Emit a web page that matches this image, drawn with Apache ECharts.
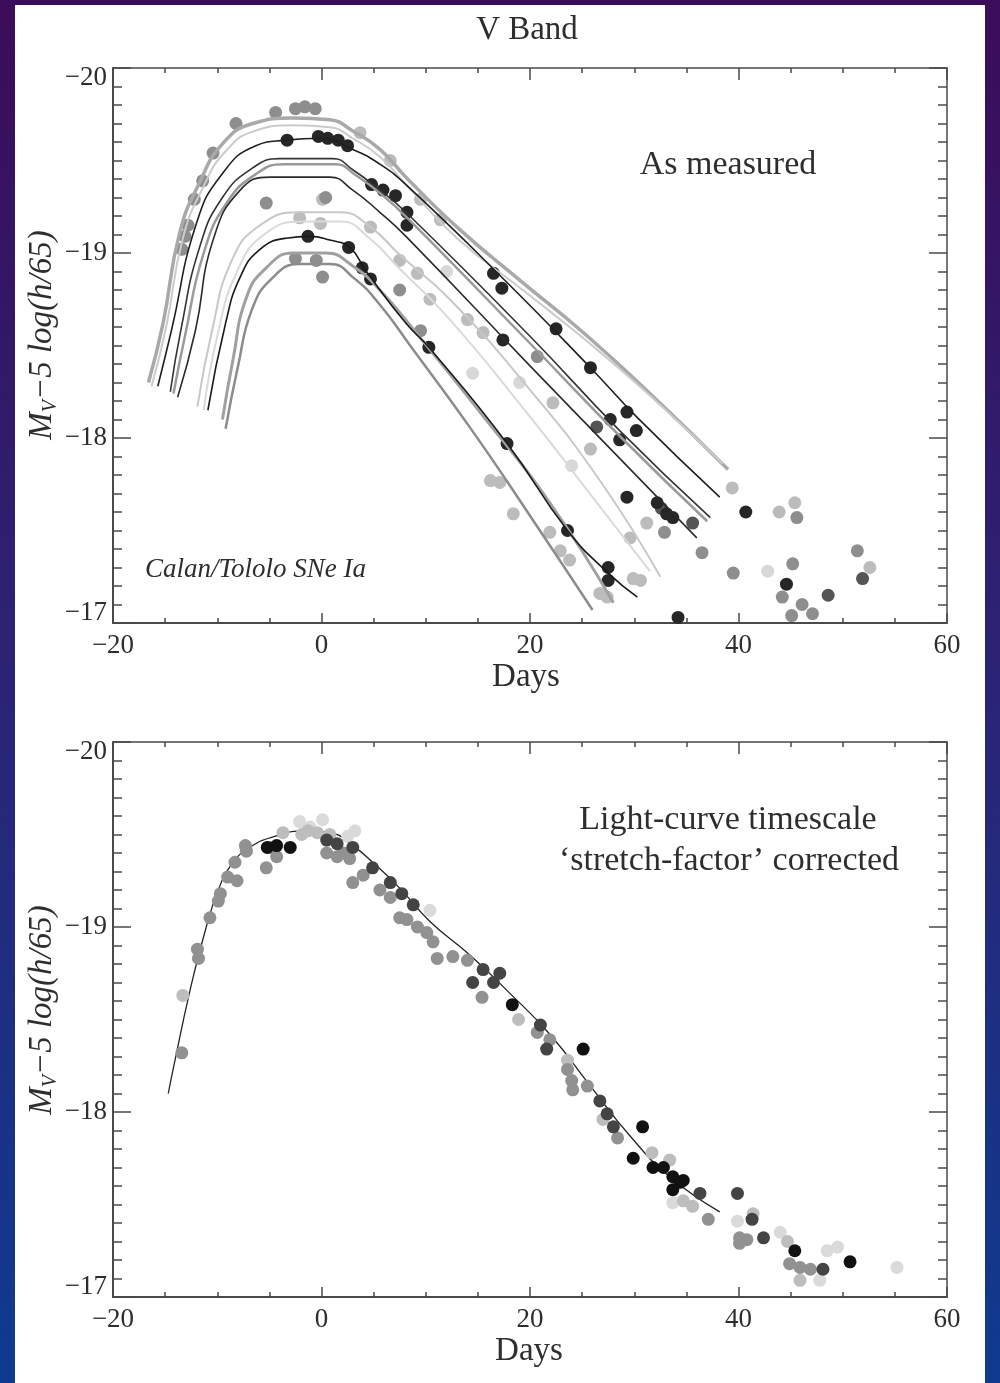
<!DOCTYPE html>
<html>
<head>
<meta charset="utf-8">
<title>V Band - Calan/Tololo SNe Ia</title>
<script src="https://cdn.jsdelivr.net/npm/echarts@6/dist/echarts.min.js"></script>
<style>
  html, body { margin: 0; padding: 0; }
  body {
    width: 1000px; height: 1383px; overflow: hidden;
    background: linear-gradient(180deg, #3b0c5a 0%, #2b2476 50%, #0e3b8f 100%);
  }
  #panel { position: absolute; left: 15px; top: 5px; width: 970px; height: 1378px; background: #fff; }
  #chart { position: absolute; left: 0; top: 0; width: 1000px; height: 1383px; }
</style>
</head>
<body>
<div id="panel"></div>
<div id="chart"></div>
<script>
// ---- axes ----
const dayTicks = [-20, 0, 20, 40, 60];
const magTicks = [-20, -19, -18, -17];

// ---- top panel: fitted light curves (day, M_V) ----
const curveA  = [[-16.6,-18.30],[-15.2,-18.62],[-13.6,-19.11],[-11.7,-19.38],[-9.5,-19.59],[-6.6,-19.70],[-2.7,-19.73],[0.8,-19.72],[3.0,-19.66],[5.6,-19.56],[8.1,-19.41],[13.0,-19.14],[19.3,-18.84],[25.1,-18.57],[31.5,-18.24],[39.0,-17.83]];
const curveA2 = [[-16.3,-18.28],[-14.9,-18.60],[-13.3,-19.08],[-11.4,-19.35],[-9.2,-19.55],[-6.4,-19.66],[-2.7,-19.69],[0.8,-19.68],[3.0,-19.62],[5.6,-19.52],[8.1,-19.37],[13.0,-19.08],[19.3,-18.80],[25.1,-18.54],[31.5,-18.23],[38.5,-17.86]];
const curveB  = [[-15.7,-18.28],[-14.4,-18.58],[-12.0,-19.16],[-9.5,-19.43],[-6.3,-19.58],[-3.4,-19.61],[-0.1,-19.62],[3.0,-19.56],[5.6,-19.48],[8.1,-19.37],[17.1,-18.88],[25.8,-18.38],[30.3,-18.11],[38.2,-17.68]];
const curveC  = [[-14.5,-18.25],[-13.5,-18.58],[-11.7,-19.03],[-9.5,-19.30],[-6.6,-19.46],[-4.0,-19.51],[1.1,-19.51],[3.0,-19.45],[5.6,-19.34],[8.1,-19.22],[20.0,-18.55],[28.6,-18.04],[37.3,-17.57]];
const curveC2 = [[-14.2,-18.24],[-13.1,-18.55],[-11.3,-19.00],[-9.1,-19.27],[-6.2,-19.43],[-3.6,-19.48],[1.3,-19.48],[3.3,-19.42],[5.9,-19.31],[8.4,-19.18],[20.2,-18.50],[28.8,-18.00],[37.0,-17.55]];
const curveD  = [[-13.8,-18.22],[-12.1,-18.58],[-10.4,-19.07],[-7.8,-19.34],[-4.9,-19.41],[0.8,-19.41],[3.0,-19.34],[5.6,-19.22],[8.1,-19.09],[20.0,-18.39],[28.6,-17.89],[36.0,-17.46]];
const curveE  = [[-11.9,-18.17],[-10.5,-18.58],[-8.6,-18.96],[-5.9,-19.15],[-2.1,-19.22],[1.8,-19.22],[4.7,-19.14],[7.5,-18.99],[12.3,-18.75],[20.0,-18.26],[26.7,-17.77],[32.5,-17.25]];
const curveE2 = [[-11.3,-18.15],[-10.0,-18.55],[-8.1,-18.90],[-5.5,-19.10],[-1.8,-19.17],[1.8,-19.17],[4.6,-19.08],[7.4,-18.92],[12.0,-18.66],[19.5,-18.15],[26.0,-17.68],[31.5,-17.28]];
const curveF  = [[-10.9,-18.15],[-9.2,-18.62],[-7.8,-18.87],[-5.9,-19.02],[-3.4,-19.08],[-1.1,-19.09],[0.8,-19.07],[2.7,-19.03],[4.3,-18.90],[8.1,-18.62],[10.3,-18.49],[17.8,-17.97],[23.6,-17.50],[27.5,-17.27],[30.3,-17.14]];
const curveG1 = [[-9.5,-18.10],[-8.5,-18.42],[-7.2,-18.76],[-5.3,-18.92],[-2.7,-19.00],[0.4,-19.00],[3.0,-18.93],[5.6,-18.80],[9.2,-18.56],[15.2,-18.14],[21.9,-17.65],[28.0,-17.11]];
const curveG2 = [[-9.2,-18.05],[-8.0,-18.39],[-6.7,-18.69],[-4.8,-18.86],[-2.1,-18.94],[0.8,-18.94],[3.2,-18.86],[5.6,-18.72],[8.5,-18.50],[14.2,-18.06],[20.0,-17.58],[26.0,-17.07]];

// ---- top panel: photometry points ----
const measuredBlack = [[-3.3,-19.61],[-0.3,-19.63],[0.6,-19.62],[1.6,-19.61],[2.5,-19.58],[4.8,-19.37],[5.9,-19.34],[7.1,-19.31],[8.2,-19.22],[8.2,-19.15],[-1.3,-19.09],[2.6,-19.03],[3.9,-18.92],[4.7,-18.86],[10.3,-18.49],[17.8,-17.97],[23.6,-17.50],[27.5,-17.30],[27.5,-17.23],[17.3,-18.81],[16.5,-18.89],[17.4,-18.53],[22.5,-18.59],[25.8,-18.38],[29.3,-18.14],[30.2,-18.04],[27.7,-18.10],[28.6,-17.99],[29.3,-17.68],[32.2,-17.65],[33.1,-17.59],[33.7,-17.57],[34.2,-17.03],[40.7,-17.60],[44.6,-17.21]];
const measuredDark = [[48.6,-17.15],[51.9,-17.24],[35.6,-17.54],[32.6,-17.62],[26.4,-18.06]];
const measuredMid = [[-8.2,-19.70],[-4.4,-19.76],[-2.5,-19.78],[-1.6,-19.79],[-0.6,-19.78],[-10.4,-19.54],[-11.4,-19.39],[-12.2,-19.29],[-13.1,-19.09],[-12.8,-19.15],[-13.4,-19.02],[-5.3,-19.27],[0.4,-19.30],[0.1,-18.87],[-0.5,-18.96],[-2.5,-18.97],[7.5,-18.80],[9.5,-18.58],[20.7,-18.44],[36.5,-17.38],[39.5,-17.27],[45.6,-17.57],[45.2,-17.32],[44.2,-17.14],[45.1,-17.04],[46.1,-17.10],[47.1,-17.05],[51.4,-17.39],[32.9,-17.49]];
const measuredLight = [[39.4,-17.73],[43.9,-17.60],[45.4,-17.65],[52.6,-17.30],[31.2,-17.54],[29.6,-17.46],[3.7,-19.65],[6.6,-19.50],[9.5,-19.29],[11.4,-19.18],[0.1,-19.29],[-2.1,-19.19],[-0.1,-19.16],[4.7,-19.14],[7.5,-18.96],[9.2,-18.89],[10.4,-18.75],[14.0,-18.64],[15.5,-18.57],[22.2,-18.19],[25.8,-17.94],[16.2,-17.77],[17.1,-17.76],[18.4,-17.59],[21.9,-17.49],[22.9,-17.39],[23.8,-17.34],[26.7,-17.16],[27.4,-17.14],[29.9,-17.24],[30.6,-17.23]];
const measuredFaint = [[42.8,-17.28],[12.0,-18.90],[19.0,-18.30],[24.0,-17.85],[14.5,-18.35]];

// ---- bottom panel: stretch-corrected template and points ----
const stretchTemplate = [[-14.7,-18.10],[-14.2,-18.24],[-12.6,-18.66],[-11.2,-18.97],[-9.9,-19.20],[-8.6,-19.34],[-6.9,-19.43],[-4.5,-19.49],[-1.6,-19.52],[0.8,-19.51],[3.0,-19.44],[5.1,-19.34],[7.5,-19.21],[10.4,-19.03],[14.2,-18.85],[18.1,-18.64],[21.9,-18.42],[25.8,-18.14],[29.6,-17.87],[33.4,-17.65],[38.2,-17.46]];
const stretchBlack = [[-5.2,-19.43],[-4.3,-19.44],[-3.0,-19.43],[18.3,-18.58],[25.1,-18.34],[30.8,-17.92],[29.9,-17.75],[31.8,-17.70],[32.8,-17.70],[33.7,-17.65],[34.4,-17.62],[33.7,-17.58],[34.7,-17.63],[45.4,-17.25],[50.7,-17.19]];
const stretchDark = [[0.5,-19.47],[1.5,-19.45],[3.0,-19.43],[4.9,-19.32],[6.6,-19.24],[7.7,-19.18],[8.8,-19.12],[15.5,-18.77],[16.5,-18.70],[14.5,-18.70],[17.1,-18.75],[21.0,-18.47],[21.6,-18.34],[26.7,-18.06],[27.4,-17.99],[28.0,-17.92],[36.3,-17.56],[39.9,-17.56],[41.3,-17.42],[42.4,-17.32],[48.1,-17.15]];
const stretchMid = [[-13.4,-18.32],[-11.8,-18.83],[-11.9,-18.88],[-10.7,-19.05],[-9.9,-19.14],[-9.7,-19.18],[-9.0,-19.27],[-8.1,-19.25],[-8.3,-19.35],[-7.3,-19.44],[-7.2,-19.41],[-5.3,-19.32],[-4.9,-19.43],[-4.3,-19.38],[0.5,-19.40],[1.5,-19.38],[2.1,-19.40],[2.7,-19.37],[3.0,-19.24],[4.0,-19.28],[5.6,-19.20],[6.6,-19.16],[7.5,-19.05],[8.2,-19.04],[9.2,-19.00],[10.1,-18.97],[10.7,-18.92],[11.1,-18.83],[12.6,-18.84],[14.0,-18.82],[15.4,-18.62],[20.7,-18.43],[21.9,-18.39],[23.6,-18.23],[24.0,-18.17],[24.1,-18.12],[25.5,-18.14],[28.4,-17.86],[37.1,-17.42],[40.1,-17.32],[40.8,-17.31],[40.1,-17.29],[44.9,-17.18],[45.9,-17.16],[46.9,-17.15]];
const stretchLight = [[-13.3,-18.63],[-3.7,-19.51],[-1.9,-19.50],[-1.3,-19.52],[-0.4,-19.51],[0.8,-19.50],[18.9,-18.50],[23.6,-18.28],[27.0,-17.96],[31.7,-17.78],[33.4,-17.74],[34.7,-17.52],[35.6,-17.49],[41.4,-17.45],[44.7,-17.30],[45.9,-17.09]];
const stretchFaint = [[-1.1,-19.54],[2.5,-19.49],[10.4,-19.09],[33.7,-17.51],[39.9,-17.41],[44.0,-17.35],[47.8,-17.09],[48.5,-17.25],[49.5,-17.27],[55.2,-17.16],[-2.1,-19.57],[0.1,-19.58],[3.2,-19.52]];

// 样式
const serif = '"Liberation Serif", "Times New Roman", serif';
const ink = '#2e2e2e';
const minus = v => (v < 0 ? '\u2212' : '') + Math.abs(v);
// end labels of the magnitude axis sit a little inside the frame, as in the print
const magLabel = v => v === magTicks[0] ? '{lo|' + minus(v) + '}' : v === magTicks[magTicks.length - 1] ? '{hi|' + minus(v) + '}' : minus(v);

const curveStyles = [
	{ data: curveA,  color: '#a9a9a9', width: 3.5 },
	{ data: curveA2, color: '#cbcbcb', width: 2 },
	{ data: curveE2, color: '#dadada', width: 2 },
	{ data: curveE,  color: '#c8c8c8', width: 2 },
	{ data: curveC2, color: '#9a9a9a', width: 2.5 },
	{ data: curveG1, color: '#a0a0a0', width: 3 },
	{ data: curveG2, color: '#8c8c8c', width: 2.5 },
	{ data: curveB,  color: '#1f1f1f', width: 1.6 },
	{ data: curveC,  color: '#333333', width: 1.6 },
	{ data: curveD,  color: '#2b2b2b', width: 1.6 },
	{ data: curveF,  color: '#1a1a1a', width: 1.6 },
];
const topPoints = [
	{ data: measuredFaint, color: '#d8d8d8' },
	{ data: measuredLight, color: '#bcbcbc' },
	{ data: measuredMid,   color: '#8e8e8e' },
	{ data: measuredDark,  color: '#555555' },
	{ data: measuredBlack, color: '#262626' },
];
const bottomPoints = [
	{ data: stretchFaint, color: '#dadada' },
	{ data: stretchLight, color: '#bdbdbd' },
	{ data: stretchMid,   color: '#919191' },
	{ data: stretchDark,  color: '#444444' },
	{ data: stretchBlack, color: '#111111' },
];

const grids = [
	{ left: 113, top: 68, width: 834, height: 555 },
	{ left: 113, top: 742, width: 834, height: 555 },
];

function xAxisFor(gridIndex, position) {
	const main = position === 'bottom';
	return {
		type: 'value', gridIndex: gridIndex, position: position,
		min: dayTicks[0], max: dayTicks[dayTicks.length - 1], interval: 20,
		axisLine: { show: true, onZero: false, lineStyle: { color: '#4a4a4a', width: main ? 2 : 1.5 } },
		axisTick: { show: true, inside: true, length: main ? 10 : 12, lineStyle: { color: '#4a4a4a', width: 1.5 } },
		minorTick: { show: true, splitNumber: 4, length: 5, lineStyle: { color: '#4a4a4a', width: 1.5 } },
		splitLine: { show: false },
		axisLabel: { show: main, formatter: minus, fontFamily: serif, fontSize: 27, color: ink, margin: 9 },
	};
}
function yAxisFor(gridIndex, position) {
	const main = position === 'left';
	const txt = { fontFamily: serif, fontSize: 27, color: ink };
	return {
		type: 'value', gridIndex: gridIndex, position: position, inverse: true,
		min: magTicks[0], max: magTicks[magTicks.length - 1], interval: 1,
		axisLine: { show: true, onZero: false, lineStyle: { color: '#4a4a4a', width: main ? 2 : 1.5 } },
		axisTick: { show: true, inside: true, length: 18, lineStyle: { color: '#4a4a4a', width: 1.5 } },
		minorTick: { show: true, splitNumber: 10, length: 9, lineStyle: { color: '#4a4a4a', width: 1.5 } },
		splitLine: { show: false },
		axisLabel: Object.assign({
			show: main, formatter: magLabel, margin: 6,
			rich: {
				lo: Object.assign({ padding: [20, 0, 0, 0] }, txt),
				hi: Object.assign({ padding: [0, 0, 20, 0] }, txt),
			},
		}, txt),
	};
}

let series = [];
curveStyles.forEach(c => {
	series.push({
		type: 'line', xAxisIndex: 0, yAxisIndex: 0, data: c.data, smooth: 0.5,
		showSymbol: false, silent: true,
		lineStyle: { color: c.color, width: c.width },
	});
});
topPoints.forEach(p => {
	series.push({
		type: 'scatter', xAxisIndex: 0, yAxisIndex: 0, data: p.data,
		symbolSize: 13, itemStyle: { color: p.color, opacity: 1 },
	});
});
series.push({
	type: 'line', xAxisIndex: 2, yAxisIndex: 2, data: stretchTemplate, smooth: 0.5,
	showSymbol: false, silent: true, z: 1,
	lineStyle: { color: '#222', width: 1.3 },
});
bottomPoints.forEach(p => {
	series.push({
		type: 'scatter', xAxisIndex: 2, yAxisIndex: 2, data: p.data,
		symbolSize: 13, itemStyle: { color: p.color, opacity: 1 },
	});
});

function label(text, x, y, size, extra) {
	return Object.assign({
		type: 'text', x: x, y: y,
		style: { text: text, font: size + 'px ' + serif, fill: ink, align: 'center', verticalAlign: 'middle' },
	}, extra || {});
}
function yName(cy) {
	return {
		type: 'text', x: 42, y: cy, rotation: Math.PI / 2,
		style: {
			text: '{m|M}{s|V}{m|\u22125 log(h/65)}',
			align: 'center', verticalAlign: 'middle', fill: ink,
			rich: {
				m: { fontFamily: serif, fontStyle: 'italic', fontSize: 33, fill: ink, lineHeight: 38 },
				s: { fontFamily: serif, fontStyle: 'italic', fontSize: 20, fill: ink, lineHeight: 38, verticalAlign: 'bottom', padding: [12, 0, 0, 0] },
			},
		},
	};
}

const myChart = echarts.init(document.getElementById('chart'));
myChart.setOption({
	animation: false,
	grid: grids,
	xAxis: [xAxisFor(0, 'bottom'), xAxisFor(0, 'top'), xAxisFor(1, 'bottom'), xAxisFor(1, 'top')],
	yAxis: [yAxisFor(0, 'left'), yAxisFor(0, 'right'), yAxisFor(1, 'left'), yAxisFor(1, 'right')],
	series: series,
	graphic: [
		label('V Band', 527, 30, 33),
		label('As measured', 728, 165, 34),
		label('Calan/Tololo SNe Ia', 145, 570, 27, { style: { text: 'Calan/Tololo SNe Ia', font: 'italic 27px ' + serif, fill: ink, align: 'left', verticalAlign: 'middle' } }),
		label('Days', 526, 677, 33),
		yName(335),
		label('Light-curve timescale', 728, 820, 34),
		label('\u2018stretch-factor\u2019 corrected', 729, 861, 34),
		label('Days', 529, 1351, 33),
		yName(1010),
	],
});
</script>
</body>
</html>
